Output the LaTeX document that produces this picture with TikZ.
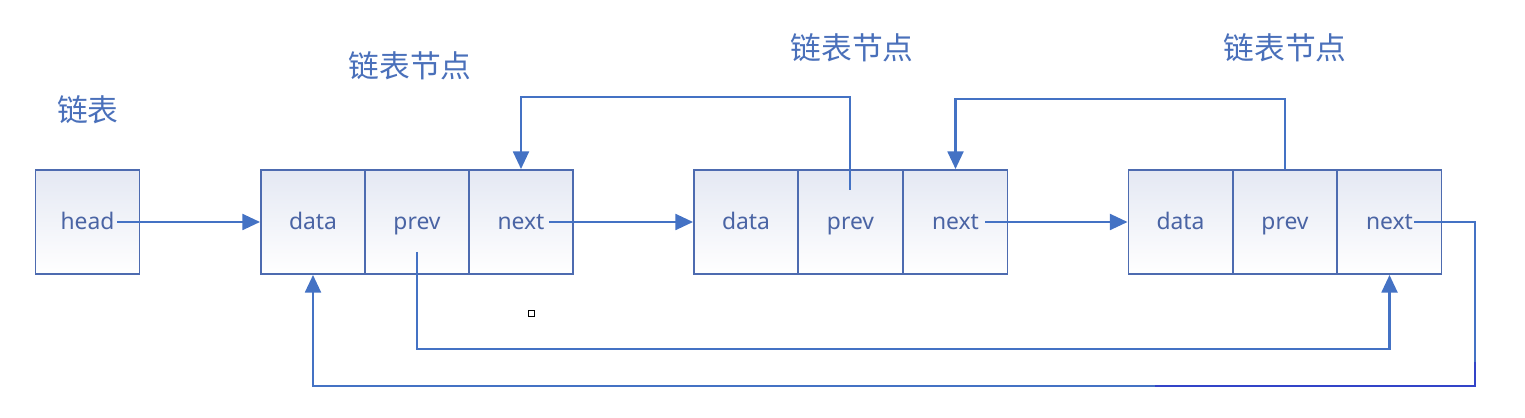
\documentclass[tikz,border=0pt]{standalone}
\usepackage{fontspec}
\setmainfont{Noto Sans}
\newfontfamily\cjk{Noto Sans CJK SC}
\usetikzlibrary{arrows.meta}
\definecolor{boxc}{HTML}{4D6BB0}
\definecolor{linec}{HTML}{4472C4}
\definecolor{txtc}{HTML}{4A64A4}
\definecolor{hdrc}{HTML}{4A70BA}
\definecolor{topc}{HTML}{E4E8F3}
\definecolor{darkb}{HTML}{3344C8}
\tikzset{
  cell/.style={draw=boxc, line width=1.1pt, minimum width=2.08cm, minimum height=2.08cm,
    inner sep=0pt, top color=topc, bottom color=white, text=txtc,
    text height=1.6ex, text depth=0ex,
    font=\fontsize{13}{15}\selectfont},
  hdr/.style={text=hdrc, font=\cjk\fontsize{17.5}{20}\selectfont, inner sep=0pt},
  conn/.style={draw=linec, line width=1.4pt, -{Triangle[length=10pt,width=9pt]}},
  plain/.style={draw=linec, line width=1.4pt}
}
\begin{document}
\begin{tikzpicture}[x=0.02cm,y=-0.02cm]
\useasboundingbox (0,0) rectangle (1525,418);
% headers
\node[hdr] (t0) at (88,110) {链表};
\node[hdr] (t1) at (410,66) {链表节点};
\node[hdr] (t2) at (852,48) {链表节点};
\node[hdr] (t3) at (1285,48) {链表节点};
% cells
\node[cell] (h) at (87.5,222) {head};
\node[cell] (d1) at (313,222) {data};
\node[cell] (p1) at (417,222) {prev};
\node[cell] (n1) at (521,222) {next};
\node[cell] (d2) at (746,222) {data};
\node[cell] (p2) at (850.5,222) {prev};
\node[cell] (n2) at (955.5,222) {next};
\node[cell] (d3) at (1180.5,222) {data};
\node[cell] (p3) at (1285,222) {prev};
\node[cell] (n3) at (1389.5,222) {next};
% start points
\coordinate (hs) at (117,222);
\coordinate (n1s) at (549,222);
\coordinate (n2s) at (985,222);
\coordinate (n3s) at (1414,222);
\coordinate (p1s) at (417,252);
\coordinate (p2s) at (850,190);
% connectors
\draw[conn] (hs) -- (d1.west);
\draw[conn] (n1s) -- (d2.west);
\draw[conn] (n2s) -- (d3.west);
\draw[conn] (p2s) -- ++(0,-93) -| (n1.north);
\draw[conn] (p3.north) -- ++(0,-70) -| (n2.north);
\draw[conn] (p1s) -- ++(0,97) -| (n3.south);
\draw[conn] (n3s) -- ++(61,0) -- ++(0,164) -| (d1.south);
\draw[draw=darkb, line width=1.4pt] (1155,386) -- (1475,386) -- (1475,362);
% small marker
\node[draw=black, line width=0.6pt, minimum size=0.12cm, inner sep=0pt] (m) at (531.5,313.5) {};
\end{tikzpicture}
\end{document}
